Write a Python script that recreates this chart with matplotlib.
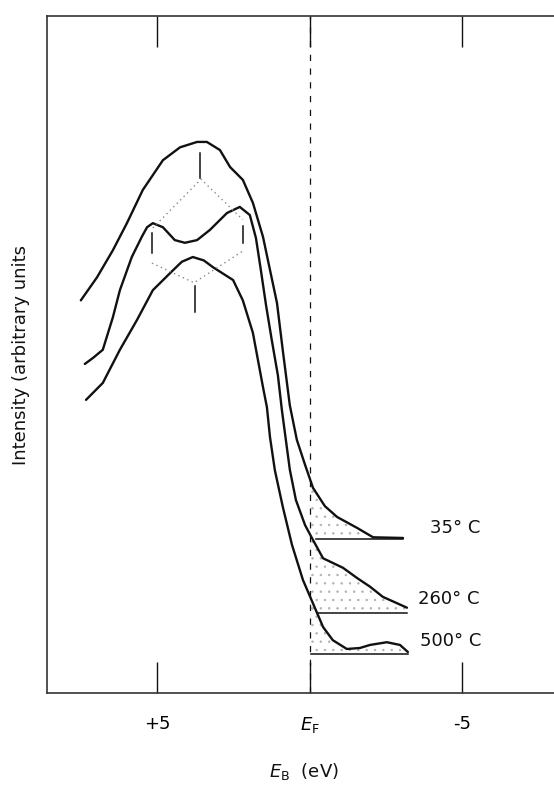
import matplotlib
matplotlib.use('Agg')
import matplotlib.pyplot as plt
import numpy as np

# binding energy in eV (positive = below E_F), intensity in arbitrary units
e_35 = [7.51, 6.98, 6.46, 6.00, 5.48, 4.82, 4.26, 3.70, 3.38, 2.95, 2.62, 2.20,
        1.87, 1.54, 1.31, 1.08, 0.89, 0.66, 0.43, 0.16, -0.10, -0.49, -0.89, -1.54,
        -2.07, -3.05]
i_35 = [58.0, 61.4, 65.4, 69.4, 74.3, 78.7, 80.6, 81.4, 81.4, 80.2, 77.7, 75.8,
        72.4, 67.4, 62.5, 57.6, 50.6, 42.5, 37.4, 33.7, 30.3, 27.6, 26.0, 24.4,
        23.0, 22.9]

e_260 = [7.38, 7.11, 6.79, 6.46, 6.23, 5.84, 5.51, 5.34, 5.15, 4.82, 4.43, 4.10, 3.70,
         3.28, 2.72, 2.30, 1.97, 1.77, 1.61, 1.44, 1.25, 1.05, 0.92, 0.79, 0.66, 0.46,
         0.16, -0.10, -0.43, -1.08, -1.54, -1.97, -2.39, -3.18]
i_260 = [48.6, 49.5, 50.7, 55.5, 59.5, 64.4, 67.4, 68.8, 69.4, 68.8, 66.9, 66.5, 66.9,
         68.4, 70.9, 71.8, 70.6, 67.2, 62.5, 57.3, 52.1, 46.9, 41.8, 37.4, 33.0, 28.5,
         24.8, 22.6, 19.9, 18.5, 17.0, 15.7, 14.2, 12.6]

e_500 = [7.34, 6.79, 6.23, 5.67, 5.15, 4.59, 4.20, 3.84, 3.48, 3.18, 2.52, 2.20, 1.87,
         1.54, 1.41, 1.31, 1.15, 0.89, 0.59, 0.23, -0.43, -0.75, -1.21, -1.64, -1.97,
         -2.52, -2.95, -3.21]
i_500 = [43.3, 45.8, 50.7, 55.1, 59.5, 62.0, 63.7, 64.4, 63.9, 62.9, 61.0, 58.0, 53.2,
         45.2, 42.2, 37.8, 32.9, 27.5, 21.9, 16.7, 9.75, 7.8, 6.5, 6.65, 7.1, 7.5,
         7.1, 6.06]

# baselines under the shaded part above E_F: (start, end, level)
base_35 = (-0.2, -3.05, 22.75)
base_260 = (-0.25, -3.18, 11.8)
base_500 = (-0.05, -3.21, 5.76)

labels = ['35° C', '260° C', '500° C']
label_pos = [(-3.95, 24.3), (-3.55, 13.9), (-3.62, 7.7)]

# peak markers and the dotted lines joining them
mark_e = [3.61, 5.18, 2.20, 3.77]
mark_lo = [76.1, 65.0, 66.5, 56.3]
mark_hi = [79.8, 68.0, 69.0, 60.1]
upper_e = [5.15, 3.57, 2.20]
upper_i = [68.7, 75.9, 69.9]
lower_e = [5.18, 3.80, 2.16]
lower_i = [63.5, 60.6, 65.4]

tick_e = [5, 0, -5]
tick_lab = ['+5', r'$E_{\mathrm{F}}$', '-5']

plt.rcParams['mathtext.fontset'] = 'dejavusans'
plt.rcParams['hatch.linewidth'] = 0.5

fig = plt.figure(figsize=(5.54, 7.85), dpi=100)
ax = fig.add_axes([0.0848, 0.1172, 0.9152, 0.8624])

ink = '#111111'
curves = [(e_35, i_35), (e_260, i_260), (e_500, i_500)]
for e, i in curves:
    ax.plot(e, i, color=ink, lw=1.7, solid_joinstyle='round', solid_capstyle='round')

for (e, i), (x0, x1, lev) in zip(curves, [base_35, base_260, base_500]):
    ax.plot([x0, x1], [lev, lev], color=ink, lw=1.1)
    xs = np.linspace(0, x1, 60)
    top = np.interp(-xs, -np.array(e), np.array(i))
    ax.fill_between(xs, lev, top, facecolor='none', edgecolor='#b0b0b0',
                    hatch='..', lw=0)

for txt, (x, y) in zip(labels, label_pos):
    ax.text(x, y, txt, fontsize=13, color=ink, ha='left', va='center')

for x, lo, hi in zip(mark_e, mark_lo, mark_hi):
    ax.plot([x, x], [lo, hi], color=ink, lw=1.1)
ax.plot(upper_e, upper_i, color='#888888', lw=1.0, ls=(0, (1, 2.5)))
ax.plot(lower_e, lower_i, color='#888888', lw=1.0, ls=(0, (1, 2.5)))

ax.axvline(0, color=ink, lw=0.9, ls=(0, (5, 6)))

ax.set_xlim(8.62, -8.0)
ax.set_ylim(0, 100)
ax.set_xticks(tick_e)
ax.set_xticklabels(tick_lab, fontsize=13)
ax.set_yticks([])
ax.tick_params(axis='x', direction='in', length=22, width=1.0, color=ink,
               top=True, bottom=True, pad=16)
for s in ['left', 'top', 'bottom']:
    ax.spines[s].set_color('#333333')
    ax.spines[s].set_linewidth(1.2)
ax.spines['right'].set_visible(False)

ax.set_ylabel('Intensity (arbitrary units', fontsize=13, color=ink, labelpad=12)
fig.text(304 / 554, 1 - 772 / 785, r'$E_{\mathrm{B}}$  (eV)', fontsize=13, color=ink,
         ha='center', va='center')

fig.savefig('out.png', dpi=100)
